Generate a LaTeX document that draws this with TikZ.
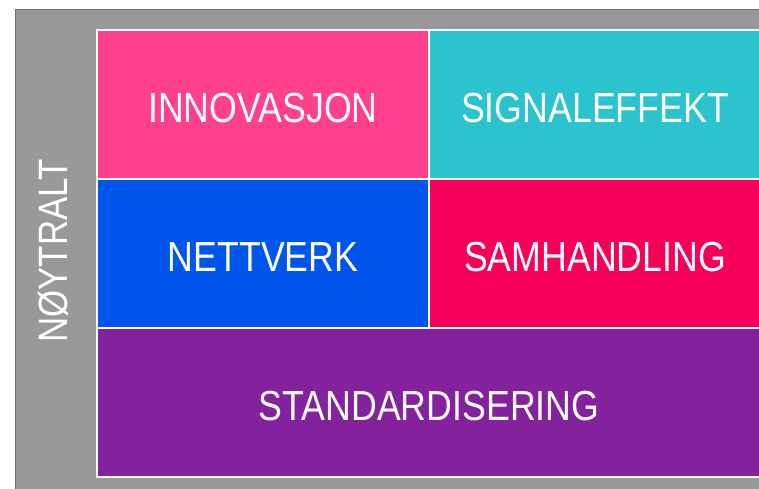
\documentclass[tikz,border=0pt]{standalone}
\usepackage{fontspec}
\newfontfamily\tilefont[FakeStretch=0.85]{Liberation Sans}
\definecolor{panelgray}{RGB}{153,153,153}
\definecolor{paneledge}{RGB}{110,110,110}
\definecolor{innovpink}{RGB}{255,64,140}
\definecolor{signalteal}{RGB}{42,195,206}
\definecolor{nettblue}{RGB}{0,86,234}
\definecolor{samred}{RGB}{245,0,90}
\definecolor{stdpurple}{RGB}{132,34,158}
\tikzset{
  tile/.style={draw=white, line width=1.2pt, inner sep=0pt, text=white,
    text height=36pt, text depth=0pt,
    font=\tilefont\fontsize{42}{50}\selectfont},
}
\begin{document}
\begin{tikzpicture}[x=1pt,y=-1pt]
\useasboundingbox (0,0) rectangle (759,489);

%Shape: grey panel
\draw [draw=paneledge, fill=panelgray, line width=1pt] (15,10) rectangle (770,500);

% Tiles
\node [tile, fill=innovpink, minimum width=332pt, minimum height=149pt] (innov) at (263,104.5) {INNOVASJON};
\node [tile, fill=signalteal, minimum width=332pt, minimum height=149pt] (signal) at (595,104.5) {SIGNALEFFEKT};
\node [tile, fill=nettblue, minimum width=332pt, minimum height=149pt] (nett) at (263,253.5) {NETTVERK};
\node [tile, fill=samred, minimum width=332pt, minimum height=149pt] (samh) at (595,253.5) {SAMHANDLING};
\node [tile, fill=stdpurple, minimum width=664pt, minimum height=149pt] (std) at (429,402.5) {STANDARDISERING};

% Text Node
\node [text=white, inner sep=0pt, rotate=90, font=\tilefont\fontsize{41}{50}\selectfont] (noyt) at (53,251) {NØYTRALT};

\end{tikzpicture}
\end{document}
